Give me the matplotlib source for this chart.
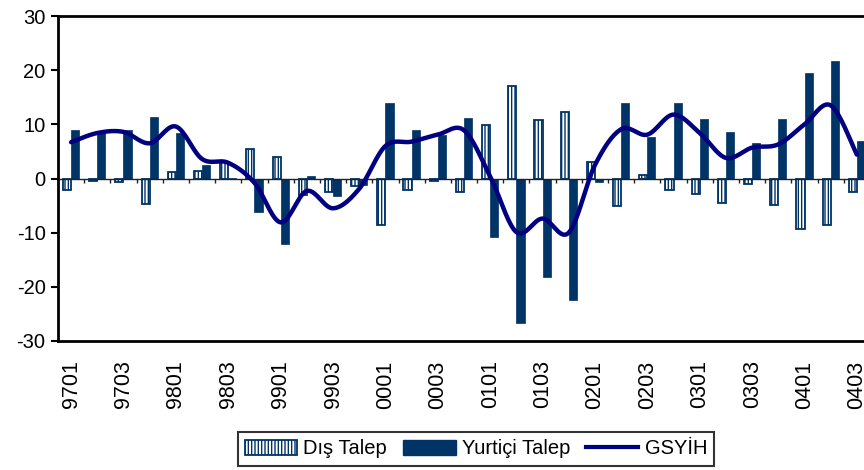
import numpy as np
import matplotlib
matplotlib.use('Agg')
import matplotlib.pyplot as plt
from matplotlib.patches import Patch
from matplotlib.lines import Line2D

plt.rcParams['font.family'] = ['Liberation Sans', 'DejaVu Sans']
plt.rcParams['axes.unicode_minus'] = False

periods = ['9701', '9702', '9703', '9704', '9801', '9802', '9803', '9804',
           '9901', '9902', '9903', '9904', '0001', '0002', '0003', '0004',
           '0101', '0102', '0103', '0104', '0201', '0202', '0203', '0204',
           '0301', '0302', '0303', '0304', '0401', '0402', '0403']
dis_talep = [-2.2, -0.5, -0.6, -4.7, 1.2, 1.3, 3.1, 5.4, 4.0, -3.0, -2.5,
             -1.3, -8.5, -2.2, -0.4, -2.5, 9.9, 17.0, 10.8, 12.2, 3.1, -5.0,
             0.7, -2.1, -2.8, -4.6, -1.0, -4.8, -9.4, -8.5, -2.5]
yurtici_talep = [9.0, 8.75, 8.9, 11.3, 8.4, 2.5, 0.1, -6.2, -12.1, 0.55, -3.3,
                 -1.2, 14.0, 9.0, 8.1, 11.1, -10.8, -26.7, -18.2, -22.5, -0.7,
                 14.0, 7.7, 13.9, 10.9, 8.5, 6.6, 10.9, 19.5, 21.7, 6.9]
gsyih = [6.7, 8.4, 8.6, 6.5, 9.6, 3.6, 2.9, -0.8, -8.1, -2.3, -5.5, -1.9,
         6.0, 6.8, 8.1, 8.9, 0.4, -9.9, -7.4, -10.0, 2.5, 9.1, 8.1, 11.8,
         8.4, 3.8, 5.7, 6.3, 10.0, 13.5, 4.4]
labels_shown = periods[::2]

NAVY = '#003366'
LINE = '#000080'

fig = plt.figure(figsize=(8.64, 4.70), dpi=100)
ax = fig.add_axes([58 / 864, 129 / 470, 812 / 864, 325 / 470])

x = np.arange(len(periods))
w = 0.31
ax.bar(x - w / 2, dis_talep, width=w, facecolor='white', edgecolor=NAVY,
       hatch='|||||', linewidth=1.3, zorder=2)
ax.bar(x + w / 2, yurtici_talep, width=w, color=NAVY, edgecolor=NAVY,
       linewidth=0.5, zorder=2)

# smoothed line (Bezier smoothing like Excel)
def smooth(xs, ys, n=20):
    xs = np.asarray(xs, float)
    ys = np.asarray(ys, float)
    P = np.column_stack([xs, ys])
    P = np.vstack([P[0], P, P[-1]])
    out = []
    for i in range(1, len(P) - 2):
        p0, p1, p2, p3 = P[i - 1], P[i], P[i + 1], P[i + 2]
        c1 = p1 + (p2 - p0) / 6
        c2 = p2 - (p3 - p1) / 6
        t = np.linspace(0, 1, n)[:, None]
        seg = ((1 - t) ** 3) * p1 + 3 * ((1 - t) ** 2) * t * c1 + \
            3 * (1 - t) * t ** 2 * c2 + t ** 3 * p2
        out.append(seg if i == 1 else seg[1:])
    out = np.vstack(out)
    return out[:, 0], out[:, 1]

sx, sy = smooth(x, gsyih)
ax.plot(sx, sy, color=LINE, linewidth=3.2, zorder=3, solid_capstyle='round')

# zero axis with category tick marks
ax.axhline(0, color='#222222', linewidth=1.0, zorder=2.5)
bounds = np.arange(1, len(periods)) - 0.5
ax.vlines(bounds, -0.9, 0, color='#222222', linewidth=1.0, zorder=2.5)

ax.set_xlim(-0.5, len(periods) - 0.5)
ax.set_ylim(-30, 30)
ax.set_yticks(np.arange(-30, 31, 10))
ax.set_xticks(x[::2])
ax.set_xticklabels(labels_shown, rotation=90, fontsize=15.5)
ax.tick_params(axis='x', length=0, pad=14)
ax.tick_params(axis='y', length=5, width=1.5, labelsize=14.5, pad=4)

for s in ['left', 'top', 'bottom']:
    ax.spines[s].set_linewidth(2)
    ax.spines[s].set_color('black')
ax.spines['right'].set_visible(False)

handles = [Patch(facecolor='white', edgecolor=NAVY, hatch='|||||', linewidth=1.3),
           Patch(facecolor=NAVY, edgecolor=NAVY),
           Line2D([0], [0], color=LINE, linewidth=3)]
leg = fig.legend(handles, ['Dış Talep', 'Yurtiçi Talep', 'GSYİH'],
                 loc='center', bbox_to_anchor=(476 / 864, 21 / 470), ncol=3,
                 fontsize=14.5, frameon=True, fancybox=False,
                 handlelength=2.6, handletextpad=0.3, columnspacing=0.8,
                 borderpad=0.35, borderaxespad=0)
leg.get_frame().set_edgecolor('black')
leg.get_frame().set_linewidth(1.5)

fig.savefig('out.png', dpi=100)
